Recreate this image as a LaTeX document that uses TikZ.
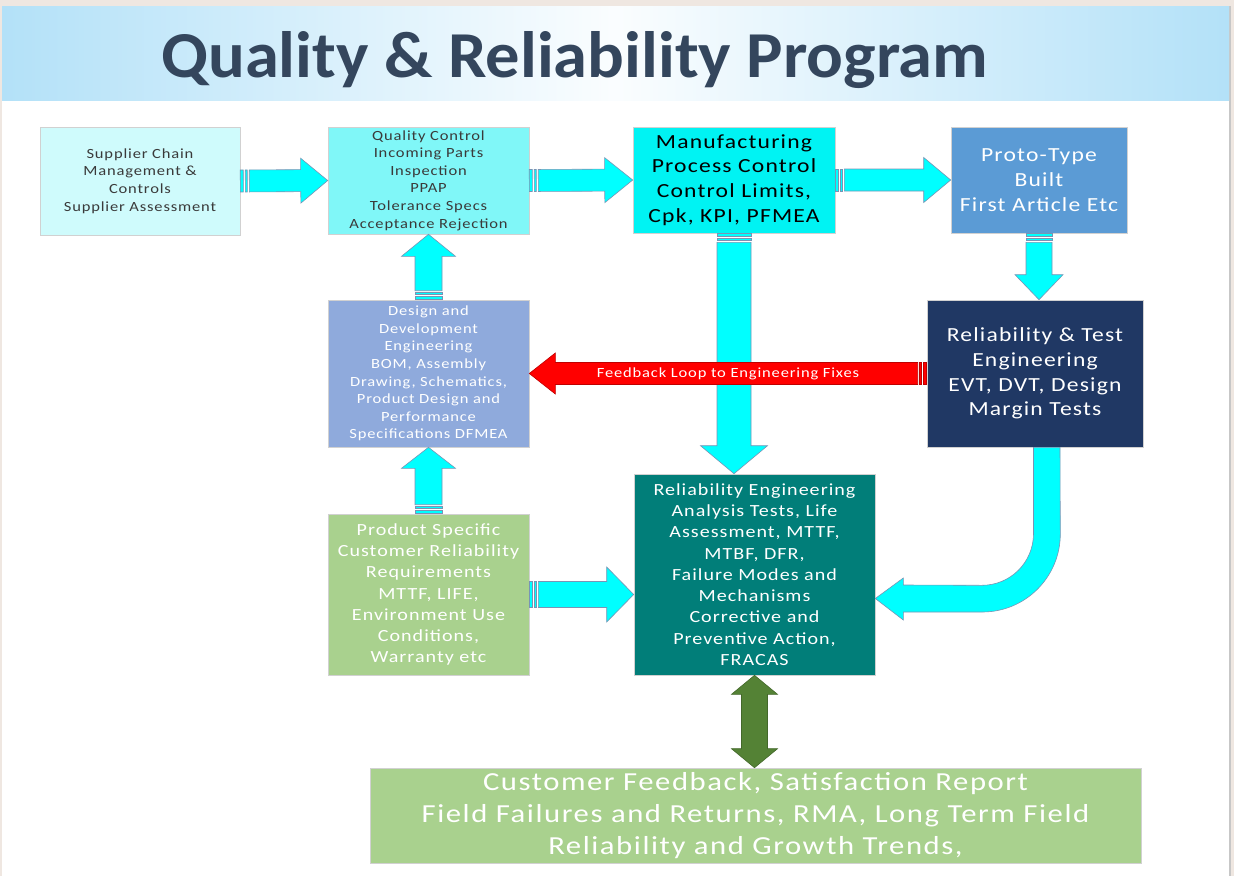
\documentclass[tikz,border=0pt]{standalone}
\usepackage{fontspec}
\setmainfont{Carlito}[FakeStretch=1.18, LetterSpace=6]
\newfontfamily\titlefont{Carlito}
\usetikzlibrary{positioning, calc}

\definecolor{supfill}{HTML}{CFFBFC}
\definecolor{qcfill}{HTML}{80F7F8}
\definecolor{mfgfill}{HTML}{00F3F3}
\definecolor{protofill}{HTML}{5B9BD5}
\definecolor{devfill}{HTML}{8FAADC}
\definecolor{testfill}{HTML}{203864}
\definecolor{reqfill}{HTML}{A9D18E}
\definecolor{relfill}{HTML}{017E79}
\definecolor{arrowcyan}{HTML}{00FFFF}
\definecolor{arrowedge}{HTML}{7A93B4}
\definecolor{greenfill}{HTML}{548235}
\definecolor{titlecol}{HTML}{34465D}
\definecolor{darktext}{HTML}{3A3A3A}
\definecolor{bandblue}{HTML}{B3E1F8}
\definecolor{framecol}{HTML}{EFE7E1}

% block arrow with a striped tail: [style]{tail}{tip}{shaft half}{head half}{head length}
\newcommand{\fatarrow}[6][cyanarrow]{%
  \filldraw[#1] ($(#2)!0pt!(#3)!#4!90:(#3)$) -- ($(#2)!3pt!(#3)!#4!90:(#3)$)
    -- ($(#2)!3pt!(#3)!#4!-90:(#3)$) -- ($(#2)!0pt!(#3)!#4!-90:(#3)$) -- cycle;
  \filldraw[#1] ($(#2)!5pt!(#3)!#4!90:(#3)$) -- ($(#2)!7pt!(#3)!#4!90:(#3)$)
    -- ($(#2)!7pt!(#3)!#4!-90:(#3)$) -- ($(#2)!5pt!(#3)!#4!-90:(#3)$) -- cycle;
  \filldraw[#1] ($(#2)!9pt!(#3)!#4!90:(#3)$) -- ($(#3)!#6!(#2)!#4!90:(#3)$)
    -- ($(#3)!#6!(#2)!#5!90:(#3)$) -- (#3) -- ($(#3)!#6!(#2)!#5!-90:(#3)$)
    -- ($(#3)!#6!(#2)!#4!-90:(#3)$) -- ($(#2)!9pt!(#3)!#4!-90:(#3)$) -- cycle;
}

\begin{document}
\begin{tikzpicture}[
    x=1pt, y=1pt,
    box/.style={draw=black!18, line width=0.6pt, rectangle, inner sep=0pt, align=center},
    smalltext/.style={font=\fontsize{14}{17.6}\selectfont},
    midtext/.style={font=\fontsize{17}{21.3}\selectfont},
    bigtext/.style={font=\fontsize{20}{24.7}\selectfont},
    cyanarrow/.style={fill=arrowcyan, draw=arrowedge, line width=0.6pt},
    redarrow/.style={fill=red, draw=red!75!black, line width=0.6pt},
    greenarrow/.style={fill=greenfill, draw=greenfill!80!black, line width=0.6pt}
]
    \useasboundingbox (0,0) rectangle (1234,-876);

    % page and title band
    \fill[framecol] (0,0) rectangle (1234,-876);
    \fill[white] (2,-6) rectangle (1229,-876);
    \fill[black!22] (1229,-6) rectangle (1231,-876);
    \shade[left color=bandblue, right color=bandblue, middle color=white!94!bandblue] (2,-6) rectangle (1229,-100);
    \node[anchor=base west, inner sep=0pt, text=titlecol] (title) at (161,-77)
        {\resizebox{827pt}{46pt}{\titlefont\bfseries Quality \& Reliability Program}};

    % Boxes
    \node[box, smalltext, fill=supfill, text=darktext, minimum width=200pt, minimum height=108pt] (sup) at (140,-181)
        {Supplier Chain\\Management \&\\Controls\\Supplier Assessment};
    \node[box, smalltext, fill=qcfill, text=darktext, minimum width=201pt, minimum height=107pt] (qc) at (428.5,-180.5)
        {Quality Control\\Incoming Parts\\Inspection\\PPAP\\Tolerance Specs\\Acceptance Rejection};
    \node[box, bigtext, fill=mfgfill, text=black, minimum width=202pt, minimum height=106pt] (mfg) at (734,-180)
        {Manufacturing\\Process Control\\Control Limits,\\Cpk, KPI, PFMEA};
    \node[box, bigtext, fill=protofill, text=white, minimum width=176pt, minimum height=106pt] (proto) at (1039,-180)
        {Proto-Type\\Built\\First Article Etc};
    \node[box, smalltext, fill=devfill, text=white, minimum width=201pt, minimum height=147pt] (dev) at (428.5,-373.5)
        {Design and\\Development\\Engineering\\BOM, Assembly\\Drawing, Schematics,\\Product Design and\\Performance\\Specifications DFMEA};
    \node[box, bigtext, fill=testfill, text=white, minimum width=216pt, minimum height=147pt] (rtest) at (1035,-373.5)
        {Reliability \& Test\\Engineering\\EVT, DVT, Design\\Margin Tests};
    \node[box, midtext, fill=reqfill, text=white, minimum width=201pt, minimum height=161pt] (req) at (428.5,-594.5)
        {Product Specific\\Customer Reliability\\Requirements\\MTTF, LIFE,\\Environment Use\\Conditions,\\Warranty etc};
    \node[box, midtext, fill=relfill, text=white, minimum width=241pt, minimum height=201pt] (releng) at (754.5,-574.5)
        {Reliability Engineering\\Analysis Tests, Life\\Assessment, MTTF,\\MTBF, DFR,\\Failure Modes and\\Mechanisms\\Corrective and\\Preventive Action,\\FRACAS};
    \node[box, font=\fontsize{26}{32}\selectfont, fill=reqfill, text=white, minimum width=771pt, minimum height=95pt] (cust) at (755.5,-815.5)
        {Customer Feedback, Satisfaction Report\\Field Failures and Returns, RMA, Long Term Field\\Reliability and Growth Trends,};

    % Arrow end points
    \coordinate (protoend) at (proto.south |- rtest.north);
    \coordinate (mfgend) at (mfg.south |- releng.north);
    \coordinate (reqend) at (req.east -| releng.west);
    \coordinate (custtop) at (releng.south |- cust.north);

    % Arrows
    \fatarrow{sup.east}{qc.west}{11pt}{22.5pt}{27pt}
    \fatarrow{qc.east}{mfg.west}{11pt}{22.5pt}{28pt}
    \fatarrow{mfg.east}{proto.west}{11pt}{22.5pt}{27pt}
    \fatarrow{proto.south}{protoend}{13pt}{24pt}{25pt}
    \fatarrow{mfg.south}{mfgend}{17pt}{33.5pt}{28pt}
    \fatarrow{dev.north}{qc.south}{13.5pt}{27pt}{22pt}
    \fatarrow{req.north}{dev.south}{13.5pt}{27pt}{21pt}
    \fatarrow{req.east}{reqend}{13pt}{27.5pt}{27pt}
    \fatarrow[redarrow]{rtest.west}{dev.east}{11pt}{20.5pt}{26pt}
    \node[smalltext, text=white] (fbl) at ($(rtest.west)!0.5!(dev.east)$) {Feedback Loop to Engineering Fixes};

    % bent arrow from test engineering
    \draw[cyanarrow] ($(rtest.south)+(-1.5,0)$) -- ++(0,-86.5) arc[start angle=0, end angle=-90, radius=51.5]
        -- ($(releng.east)+(28,-10.5)$) -- ++(0,7) -- ($(releng.east)+(0,-24)$) -- ++(28,-21.5) -- ++(0,8)
        -- ++(79,0) arc[start angle=-90, end angle=0, radius=78] -- ($(rtest.south)+(25,0)$) -- cycle;

    % two-way arrow to customer feedback
    \draw[greenarrow] (releng.south) -- ($(releng.south)+(23,-19)$) -- ($(releng.south)+(13,-19)$)
        -- ($(custtop)+(13,19)$) -- ($(custtop)+(23,19)$) -- (custtop) -- ($(custtop)+(-23,19)$)
        -- ($(custtop)+(-13,19)$) -- ($(releng.south)+(-13,-19)$) -- ($(releng.south)+(-23,-19)$) -- cycle;
\end{tikzpicture}
\end{document}
